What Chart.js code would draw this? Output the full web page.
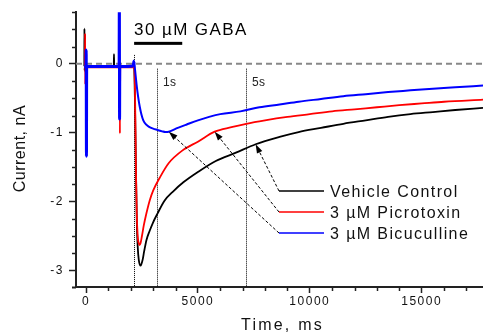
<!DOCTYPE html>
<html lang="en">
<head>
<meta charset="utf-8">
<title>Corriente GABA</title>
<script src="https://cdn.jsdelivr.net/npm/chart.js"></script>
<style>
  body { margin: 0; background: #fff; }
  canvas { display: block; }
</style>
</head>
<body>
<canvas id="graficoGABA" width="483" height="335"></canvas>
<script>
// Registros de corriente (ms, nA)
const tiempoVeh = [-80, -75, -70, -62, -55, 1000, 1240, 1250, 1262, 1275, 2100, 2150, 2190, 2230, 2270, 2310, 2360, 2440, 2520, 2600, 2700, 2850, 3000, 3200, 3500, 3900, 4350, 5000, 5800, 6700, 7580, 8650, 9500, 10500, 11500, 12500, 13500, 14500, 15500, 16500, 17740];
const corrienteVeh = [-0.04, -0.04, 0.51, -0.1, -0.04, -0.04, -0.04, 0.14, -0.04, -0.04, -0.04, -0.04, -0.6, -1.5, -2.3, -2.65, -2.85, -2.93, -2.86, -2.72, -2.56, -2.42, -2.3, -2.17, -1.99, -1.85, -1.72, -1.57, -1.41, -1.29, -1.167, -1.06, -0.99, -0.93, -0.87, -0.82, -0.77, -0.73, -0.70, -0.67, -0.64];

const tiempoPic = [-80, -45, -40, -33, -25, 40, 1000, 1500, 1515, 1530, 1545, 2100, 2150, 2190, 2230, 2270, 2310, 2350, 2390, 2440, 2500, 2580, 2700, 2850, 3000, 3300, 3700, 4300, 5000, 5750, 6500, 7160, 8000, 9000, 10000, 11000, 12000, 13000, 14000, 15000, 16000, 17740];
const corrientePic = [-0.04, -0.04, 0.44, -0.3, -0.05, -0.05, -0.05, -0.05, -1.01, -0.05, -0.05, -0.05, -0.05, -0.4, -1.5, -2.2, -2.5, -2.6, -2.63, -2.6, -2.5, -2.35, -2.17, -1.98, -1.84, -1.65, -1.44, -1.26, -1.13, -0.985, -0.92, -0.87, -0.82, -0.77, -0.73, -0.69, -0.66, -0.63, -0.60, -0.575, -0.55, -0.52];

const tiempoBic = [-80, 0, 8, 20, 30, 60, 1000, 1480, 1490, 1500, 1510, 1530, 2100, 2150, 2190, 2260, 2330, 2400, 2480, 2560, 2680, 2800, 3000, 3200, 3400, 3550, 3700, 4100, 4500, 5000, 5500, 6000, 6900, 7750, 8650, 9500, 10500, 11500, 12500, 13500, 14500, 15500, 16500, 17740];
const corrienteBic = [-0.04, -0.04, 0.2, -1.34, -0.04, -0.04, -0.04, -0.04, 1.0, -0.8, -0.04, -0.04, -0.03, 0.04, -0.08, -0.30, -0.48, -0.62, -0.74, -0.82, -0.88, -0.91, -0.94, -0.96, -0.98, -0.99, -0.985, -0.93, -0.88, -0.82, -0.77, -0.73, -0.69, -0.63, -0.59, -0.55, -0.51, -0.47, -0.44, -0.41, -0.385, -0.36, -0.34, -0.315];

// Leyenda y flechas (tiempo del punto de la curva al que apunta cada flecha)
const nombres = ["Vehicle Control", "3 \u00b5M Picrotoxin", "3 \u00b5M Bicuculline"];
const colores = ["#000000", "#ff0000", "#0000ff"];
const puntasFlecha = [7580, 5750, 3700];

// Ejes
const etiquetasX = [0, 5000, 10000, 15000];
const etiquetasY = [-3, -2, -1, 0];
const pasoMenorX = 1000;
const pasoMenorY = 0.25;

// Aplicacion de GABA y lineas de referencia
const gabaInicio = 2150;
const gabaFin = 4300;
const marcasTiempo = [2150, 3180, 7150];
const marcasDesde = [0.13, -0.07, -0.07];
const marcasTexto = ["", "1s", "5s"];

const fuente = '"Liberation Sans", Arial, sans-serif';
Chart.defaults.font.family = fuente;

const puntos = (t, v) => t.map((x, i) => ({ x: x, y: v[i] }));
const tiempos = [tiempoVeh, tiempoPic, tiempoBic];
const corrientes = [corrienteVeh, corrientePic, corrienteBic];

const texto = (ctx, s, x, y, tam, esp, alinear) => {
  ctx.font = tam + "px " + fuente;
  ctx.letterSpacing = esp + "px";
  ctx.textAlign = alinear || "left";
  ctx.fillText(s, x, y);
};

const extras = {
  id: "extras",
  beforeDraw(chart) {
    // espaciado de las etiquetas de los ejes
    chart.ctx.letterSpacing = "1.5px";
  },
  beforeDatasetsDraw(chart) {
    const { ctx, chartArea: a, scales: { x, y } } = chart;
    ctx.save();
    // linea discontinua en 0 nA
    const y0 = y.getPixelForValue(0);
    ctx.strokeStyle = "#888";
    ctx.lineWidth = 2;
    ctx.setLineDash([6, 4]);
    ctx.beginPath();
    ctx.moveTo(a.left, y0);
    ctx.lineTo(a.right, y0);
    ctx.stroke();
    // lineas punteadas verticales
    ctx.strokeStyle = "#000";
    ctx.lineWidth = 1;
    ctx.setLineDash([1, 1]);
    marcasTiempo.forEach((t, i) => {
      const px = Math.round(x.getPixelForValue(t)) + 0.5;
      ctx.beginPath();
      ctx.moveTo(px, y.getPixelForValue(marcasDesde[i]));
      ctx.lineTo(px, a.bottom);
      ctx.stroke();
    });
    ctx.restore();
  },
  afterDraw(chart) {
    const { ctx, chartArea: a, scales: { x, y } } = chart;
    ctx.save();
    ctx.fillStyle = "#111";

    // marcas menores y prolongacion del eje X a la izquierda
    ctx.strokeStyle = "#222";
    ctx.lineWidth = 2;
    ctx.beginPath();
    ctx.moveTo(a.left - 4, a.bottom + 0.5);
    ctx.lineTo(a.left, a.bottom + 0.5);
    ctx.stroke();
    ctx.lineWidth = 1.5;
    for (let t = 0; t <= x.max; t += pasoMenorX) {
      if (etiquetasX.includes(t)) continue;
      const px = Math.round(x.getPixelForValue(t)) + 0.5;
      ctx.beginPath();
      ctx.moveTo(px, a.bottom);
      ctx.lineTo(px, a.bottom + 4);
      ctx.stroke();
    }
    for (let k = Math.ceil(y.min / pasoMenorY); k * pasoMenorY <= y.max + 1e-9; k++) {
      const v = k * pasoMenorY;
      if (Number.isInteger(v)) continue;
      const py = Math.round(y.getPixelForValue(v)) + 0.5;
      ctx.beginPath();
      ctx.moveTo(a.left - 4, py);
      ctx.lineTo(a.left, py);
      ctx.stroke();
    }

    // barra de GABA
    const y0 = y.getPixelForValue(0);
    const xg0 = x.getPixelForValue(gabaInicio);
    const xg1 = x.getPixelForValue(gabaFin);
    ctx.fillStyle = "#000";
    ctx.fillRect(xg0, y0 - 22, xg1 - xg0, 3);
    texto(ctx, "30 \u00b5M GABA", xg0, y0 - 29, 17, 1.4);

    // etiquetas 1s y 5s
    ctx.fillStyle = "#222";
    marcasTiempo.forEach((t, i) => {
      if (!marcasTexto[i]) return;
      texto(ctx, marcasTexto[i], Math.round(x.getPixelForValue(t)) + 6, y0 + 22, 12, 0.3);
    });

    // leyenda con flechas
    const lx0 = 279, lx1 = 324, ly0 = 191, ldy = 21;
    nombres.forEach((nombre, i) => {
      const ly = ly0 + i * ldy;
      const idx = tiempos[i].indexOf(puntasFlecha[i]);
      const tx = x.getPixelForValue(puntasFlecha[i]);
      const ty = y.getPixelForValue(corrientes[i][idx]);
      const ang = Math.atan2(ty - ly, tx - lx0);
      ctx.strokeStyle = "#000";
      ctx.lineWidth = 1;
      ctx.setLineDash([3, 2]);
      ctx.beginPath();
      ctx.moveTo(lx0, ly);
      ctx.lineTo(tx - 6 * Math.cos(ang), ty - 6 * Math.sin(ang));
      ctx.stroke();
      ctx.setLineDash([]);
      ctx.fillStyle = "#000";
      ctx.beginPath();
      ctx.moveTo(tx, ty);
      ctx.lineTo(tx - 9 * Math.cos(ang) + 3 * Math.sin(ang), ty - 9 * Math.sin(ang) - 3 * Math.cos(ang));
      ctx.lineTo(tx - 9 * Math.cos(ang) - 3 * Math.sin(ang), ty - 9 * Math.sin(ang) + 3 * Math.cos(ang));
      ctx.closePath();
      ctx.fill();

      ctx.strokeStyle = colores[i];
      ctx.lineWidth = 1.5;
      ctx.beginPath();
      ctx.moveTo(lx0, ly);
      ctx.lineTo(lx1, ly);
      ctx.stroke();
      ctx.fillStyle = "#111";
      texto(ctx, nombre, 330, ly + 6, 16, 1.4);
    });

    // titulos de los ejes
    ctx.fillStyle = "#111";
    ctx.textBaseline = "middle";
    texto(ctx, "Time, ms", (a.left + a.right) / 2 + 3, 326, 16, 2.2, "center");
    ctx.translate(21, (a.top + a.bottom) / 2 - 1);
    ctx.rotate(-Math.PI / 2);
    texto(ctx, "Current, nA", 0, 0, 16, 0.5, "center");
    ctx.restore();
  }
};

const ctx = document.getElementById("graficoGABA").getContext("2d");
const grafico = new Chart(ctx, {
  type: "line",
  data: {
    datasets: nombres.map((nombre, i) => ({
      label: nombre,
      data: puntos(tiempos[i], corrientes[i]),
      borderColor: colores[i],
      borderWidth: 1.8,
      // la linea base azul antes del GABA se ve mas gruesa
      segment: i === 2 ? { borderWidth: (s) => (s.p1.parsed.x <= gabaInicio ? 3 : 2) } : undefined,
      order: 2 - i,
    })),
  },
  options: {
    responsive: false,
    animation: false,
    devicePixelRatio: 1,
    layout: { padding: { top: 10, right: 0, bottom: 0, left: 0 } },
    elements: {
      point: { radius: 0 },
      line: { cubicInterpolationMode: "monotone", fill: false },
    },
    plugins: {
      legend: { display: false },
      tooltip: { enabled: false },
    },
    scales: {
      x: {
        type: "linear",
        min: -447,
        max: 17740,
        afterFit: (scale) => { scale.height = 48; },
        afterBuildTicks: (scale) => { scale.ticks = etiquetasX.map((v) => ({ value: v })); },
        border: { color: "#222", width: 2 },
        grid: { drawOnChartArea: false, tickLength: 6, tickColor: "#222", tickWidth: 1.5 },
        ticks: {
          autoSkip: false,
          maxRotation: 0,
          padding: 1,
          color: "#111",
          font: { size: 12 },
          callback: (v) => String(v),
        },
      },
      y: {
        type: "linear",
        min: -3.24,
        max: 0.75,
        afterFit: (scale) => { scale.width = 76; },
        afterBuildTicks: (scale) => { scale.ticks = etiquetasY.map((v) => ({ value: v })); },
        border: { color: "#222", width: 2 },
        grid: { drawOnChartArea: false, tickLength: 7, tickColor: "#222", tickWidth: 1.5 },
        ticks: {
          autoSkip: false,
          padding: 5,
          color: "#111",
          font: { size: 12 },
          callback: (v) => String(v),
        },
      },
    },
  },
  plugins: [extras],
});
</script>
</body>
</html>
